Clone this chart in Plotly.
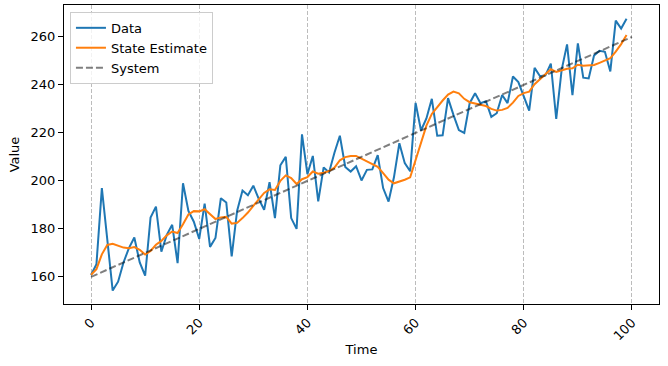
import plotly.graph_objects as go

time = list(range(100))
data_values = [160.8, 165.3, 197, 175.6, 154.3, 158, 166, 172, 176.4, 166,
               160.5, 184.7, 189.3, 170.5, 177.5, 181.7, 165.7, 199, 187.5, 183,
               175.8, 190.5, 172.5, 176.2, 192.8, 191, 168.5, 187.5, 196, 194,
               198, 192.5, 188, 199.5, 184.5, 206.5, 210, 184.5, 180, 219.4,
               202.8, 210.4, 191.5, 205.6, 203.5, 211.7, 218.8, 205.8, 203.9, 206.1,
               200.2, 204.6, 204.8, 210.7, 197, 191.4, 201.5, 215.7, 207.4, 204,
               232.5, 221, 226, 234.2, 218.8, 219, 234.5, 227.5, 221.2, 220,
               232.4, 236.5, 232.4, 233.2, 226.7, 228.2, 235.8, 232.4, 243.5, 241.2,
               235.6, 229.3, 247.1, 243.6, 244, 248.9, 225.8, 246.3, 256.9, 235.7,
               257.3, 243, 242.7, 252.3, 254.2, 253.8, 245.6, 266.8, 263.5, 267.6]
estimate_values = [160.9, 163.2, 169.4, 173.3, 173.8, 173, 172.2, 171.9, 172.4, 171.3,
                   169.3, 170.8, 173.4, 175, 177.3, 178.9, 178.3, 181.9, 186, 187.4,
                   187.3, 188.2, 186, 184.1, 184.8, 185, 182.2, 182.5, 184.5, 186.8,
                   189.6, 192.5, 195, 196.5, 196.2, 200, 202.3, 201.2, 198.7, 200.7,
                   201.6, 203.9, 203, 203.4, 204.1, 205.5, 208.6, 209.9, 210.4, 210.4,
                   209.2, 208, 207, 205.9, 203.2, 200.5, 199, 199.6, 200.5, 201.5,
                   208.5, 215.5, 223, 227.9, 230.8, 233.5, 236, 237.2, 236.5, 234.2,
                   232.8, 232.3, 231.9, 231.2, 230, 229.3, 229.6, 230.4, 232.6, 235.4,
                   236.6, 237.2, 240.3, 242.5, 244.5, 246.5, 245.4, 246, 246.7, 246.9,
                   248.4, 248, 248, 248.3, 249.2, 250.3, 251.1, 253.9, 257, 260.8]
system_time = [0, 100]
system_values = [160, 260]
x_ticks = [0, 20, 40, 60, 80, 100]
y_ticks = [160, 180, 200, 220, 240, 260]

FONT = "DejaVu Sans"

fig = go.Figure()
fig.add_trace(go.Scatter(x=time, y=data_values, mode="lines", name="Data",
                         line=dict(color="#1f77b4", width=2)))
fig.add_trace(go.Scatter(x=time, y=estimate_values, mode="lines", name="State Estimate",
                         line=dict(color="#ff7f0e", width=2)))
fig.add_trace(go.Scatter(x=system_time, y=system_values, mode="lines", name="System",
                         line=dict(color="rgba(0,0,0,0.5)", width=2, dash="7px,3px")))

fig.update_layout(
    width=668, height=366,
    margin=dict(l=64, r=9, t=5, b=62),
    paper_bgcolor="white", plot_bgcolor="white",
    font=dict(family=FONT, size=13, color="black"),
    showlegend=True,
    legend=dict(x=0.01, y=0.977, xanchor="left", yanchor="top",
                bgcolor="rgba(255,255,255,0.8)", bordercolor="#cccccc", borderwidth=1,
                font=dict(family=FONT, size=13), itemwidth=30),
)
fig.update_xaxes(
    range=[-5, 105], tickvals=x_ticks, ticktext=[str(v) for v in x_ticks], tickangle=-45,
    showline=True, linecolor="black", linewidth=1, mirror=True,
    ticks="outside", ticklen=5, tickwidth=1, tickcolor="black",
    showgrid=True, gridcolor="#bcbcbc", gridwidth=1, griddash="4px,2px",
    zeroline=False, automargin=False,
    title=dict(text="Time", font=dict(family=FONT, size=13), standoff=2),
)
fig.update_yaxes(
    range=[148.7, 273.3], tickvals=y_ticks,
    showline=True, linecolor="black", linewidth=1, mirror=True,
    ticks="outside", ticklen=5, tickwidth=1, tickcolor="black",
    showgrid=False, zeroline=False, automargin=False,
    title=dict(text="Value", font=dict(family=FONT, size=13), standoff=8),
)

fig.write_html("out.html", config={"displayModeBar": False},
               post_script="document.body.style.margin='0';document.body.style.padding='0';")
